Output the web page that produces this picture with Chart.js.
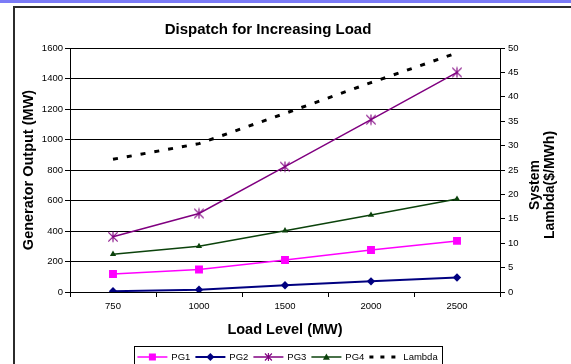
<!DOCTYPE html>
<html>
<head>
<meta charset="utf-8">
<script src="https://cdn.jsdelivr.net/npm/chart.js@4/dist/chart.umd.min.js"></script>
<style>
  html, body { margin: 0; padding: 0; background: #fff; width: 571px; height: 364px; overflow: hidden; }
  #band { position: absolute; left: 0; top: 0; width: 571px; height: 3px; background: #7b7bf6; }
  #frame { position: absolute; left: 13px; top: 6px; width: 620px; height: 420px;
           border-left: 2px solid #2b2b2b; border-top: 2px solid #2b2b2b; }
  #wrap { position: absolute; left: 0; top: 0; width: 571px; height: 364px; }
</style>
</head>
<body>
<div id="band"></div>
<div id="frame"></div>
<div id="wrap"><canvas id="c" width="571" height="364"></canvas></div>
<script>
// Load levels (MW) along the x axis
const loadLevels = ['750', '1000', '1500', '2000', '2500'];

// Generator outputs (MW), left axis
const pg1 = [118, 148, 210, 275, 335];
const pg2 = [5, 15, 44, 70, 95];
const pg3 = [362, 515, 822, 1130, 1440];
const pg4 = [248, 300, 402, 505, 610];

// System lambda ($/MWh), right axis
const lambda = [27.2, 30.4, 36.6, 42.9, 49.0];

const seriesNames = ['PG1', 'PG2', 'PG3', 'PG4', 'Lambda'];
const chartTitle = 'Dispatch for Increasing Load';
const leftTitle = 'Generator Output (MW)';
const rightTitle = ['System', 'Lambda($/MWh)'];
const bottomTitle = 'Load Level (MW)';

const FONT = '"Liberation Sans", Arial, Helvetica, sans-serif';
Chart.defaults.font.family = FONT;
Chart.defaults.color = '#000';

const C1 = '#ff00ff', C2 = '#000080', C3 = '#800080', C4 = '#0b420b';

// marker painters (used for the legend samples and the PG3 points)
function square(g, x, y, s, col) { g.fillStyle = col; g.fillRect(x - s / 2, y - s / 2, s, s); }
function diamond(g, x, y, r, col) {
  g.fillStyle = col; g.beginPath();
  g.moveTo(x - r, y); g.lineTo(x, y - r); g.lineTo(x + r, y); g.lineTo(x, y + r); g.closePath(); g.fill();
}
function triangle(g, x, y, r, col) {
  g.fillStyle = col; g.beginPath();
  g.moveTo(x, y - r); g.lineTo(x + r, y + r * 0.8); g.lineTo(x - r, y + r * 0.8); g.closePath(); g.fill();
}
function asterisk(g, x, y, r, col) {
  g.strokeStyle = col; g.lineWidth = 1.1; g.setLineDash([]); g.beginPath();
  g.moveTo(x - r, y - r); g.lineTo(x + r, y + r);
  g.moveTo(x + r, y - r); g.lineTo(x - r, y + r);
  g.moveTo(x, y - r - 0.5); g.lineTo(x, y + r + 0.5);
  g.stroke();
}

// PG3 point marker: an x crossed by a vertical bar
const starPoint = (() => {
  const c = document.createElement('canvas');
  c.width = 12; c.height = 12;
  asterisk(c.getContext('2d'), 6, 6, 4.7, C3);
  return c;
})();

// legend sample: short line with the series marker in its middle
const SAMPLE_W = 40, SAMPLE_X0 = 5.4, SAMPLE_LEN = 30;
function legendSample(color, width, dash, marker) {
  const c = document.createElement('canvas');
  c.width = SAMPLE_W; c.height = 12;
  const g = c.getContext('2d');
  g.strokeStyle = color; g.lineWidth = width; g.setLineDash(dash || []);
  g.beginPath(); g.moveTo(SAMPLE_X0, 6); g.lineTo(SAMPLE_X0 + SAMPLE_LEN, 6); g.stroke();
  g.setLineDash([]);
  if (marker) marker(g, SAMPLE_X0 + SAMPLE_LEN / 2, 6);
  return c;
}
const samples = [
  legendSample(C1, 1.5, null, (g, x, y) => square(g, x, y, 7, C1)),
  legendSample(C2, 2, null, (g, x, y) => diamond(g, x, y, 4, C2)),
  legendSample(C3, 1.5, null, (g, x, y) => asterisk(g, x, y, 3.5, C3)),
  legendSample(C4, 1.5, null, (g, x, y) => triangle(g, x, y, 3.5, C4)),
  legendSample('#000', 3, [4, 7], null)
];

// chart title, right axis title (reads bottom to top) and the legend box
const decor = {
  id: 'decor',
  afterLayout(chart) {
    // legend row sits a little left of the canvas centre
    chart.legend.left -= 5;
    chart.legend.right -= 5;
  },
  afterDraw(chart) {
    const ctx = chart.ctx;
    const area = chart.chartArea;
    ctx.save();
    ctx.fillStyle = '#000';
    ctx.textAlign = 'center';
    ctx.textBaseline = 'middle';
    ctx.font = 'bold 15px ' + FONT;
    ctx.fillText(chartTitle, (area.left + area.right) / 2 - 17, 30);

    const y1 = chart.scales.y1;
    ctx.save();
    ctx.translate(y1.left + 42.5, (y1.top + y1.bottom) / 2 + 15);
    ctx.rotate(-Math.PI / 2);
    ctx.font = 'bold 14px ' + FONT;
    rightTitle.forEach((t, i) => ctx.fillText(t, 0, (i - (rightTitle.length - 1) / 2) * 15.5));
    ctx.restore();

    const boxes = chart.legend.legendHitBoxes;
    if (boxes && boxes.length) {
      const l = Math.min(...boxes.map(b => b.left)) - 3;
      const r = Math.max(...boxes.map(b => b.left + b.width)) + 5;
      const t = boxes[0].top - 6;
      const b = boxes[0].top + boxes[0].height + 5;
      ctx.strokeStyle = '#000';
      ctx.lineWidth = 1;
      ctx.strokeRect(Math.round(l) + 0.5, Math.round(t) + 0.5, Math.round(r - l), Math.round(b - t));
    }
    ctx.restore();
  }
};

const plainTick = v => String(v);

new Chart(document.getElementById('c'), {
  type: 'line',
  data: {
    labels: loadLevels,
    datasets: [
      { label: seriesNames[0], data: pg1, yAxisID: 'y', borderColor: C1, backgroundColor: C1,
        borderWidth: 1.5, pointStyle: 'rect', pointRadius: 5.6, pointBorderWidth: 0 },
      { label: seriesNames[1], data: pg2, yAxisID: 'y', borderColor: C2, backgroundColor: C2,
        borderWidth: 2, pointStyle: 'rectRot', pointRadius: 4.2, pointBorderWidth: 0 },
      { label: seriesNames[2], data: pg3, yAxisID: 'y', borderColor: C3, backgroundColor: C3,
        borderWidth: 1.5, pointStyle: starPoint, pointRadius: 5 },
      { label: seriesNames[3], data: pg4, yAxisID: 'y', borderColor: C4, backgroundColor: C4,
        borderWidth: 1.5, pointStyle: 'triangle', pointRadius: 3.6, pointBorderWidth: 0 },
      { label: seriesNames[4], data: lambda, yAxisID: 'y1', borderColor: '#000', backgroundColor: '#000',
        borderWidth: 3, borderDash: [5, 9], borderCapStyle: 'butt', pointRadius: 0 }
    ]
  },
  options: {
    responsive: false,
    animation: false,
    events: [],
    layout: { padding: { left: 14, top: 48, right: 0, bottom: -7.75 } },
    plugins: {
      title: { display: false },
      tooltip: { enabled: false },
      legend: {
        position: 'bottom',
        labels: {
          usePointStyle: true,
          pointStyleWidth: 29.25,
          padding: 5,
          color: '#000',
          font: { size: 9.5 },
          generateLabels(chart) {
            const items = Chart.defaults.plugins.legend.labels.generateLabels(chart);
            items.forEach((it, i) => { it.pointStyle = samples[i]; it.lineWidth = 0; });
            return items;
          }
        }
      }
    },
    scales: {
      x: {
        type: 'category',
        offset: true,
        grid: { offset: true, drawOnChartArea: false, color: '#000', tickLength: 5, tickWidth: 1 },
        border: { display: true, color: '#000', width: 1 },
        ticks: { font: { size: 9.5 }, color: '#000', padding: 4, maxRotation: 0 },
        title: { display: true, text: bottomTitle, font: { size: 14.5, weight: 'bold' }, color: '#000',
                 padding: { top: 0, bottom: 8.5 } },
        afterFit(s) { s.height = 55.25; }
      },
      y: {
        position: 'left',
        min: 0, max: 1600,
        ticks: { stepSize: 200, font: { size: 9.5 }, color: '#000', padding: 2, callback: plainTick },
        grid: { color: '#000', lineWidth: 1, tickLength: 5 },
        border: { display: true, color: '#000', width: 1 },
        title: { display: true, text: leftTitle, font: { size: 14.5, weight: 'bold' }, color: '#000',
                 padding: { top: 5.8, bottom: 0 } },
        afterFit(s) { s.width = 56; }
      },
      y1: {
        position: 'right',
        min: 0, max: 50,
        ticks: { stepSize: 5, font: { size: 9.5 }, color: '#000', padding: 3, callback: plainTick },
        grid: { drawOnChartArea: false, color: '#000', tickLength: 5 },
        border: { display: true, color: '#000', width: 1 },
        afterFit(s) { s.width = 71; }
      }
    }
  },
  plugins: [decor]
});
</script>
</body>
</html>
